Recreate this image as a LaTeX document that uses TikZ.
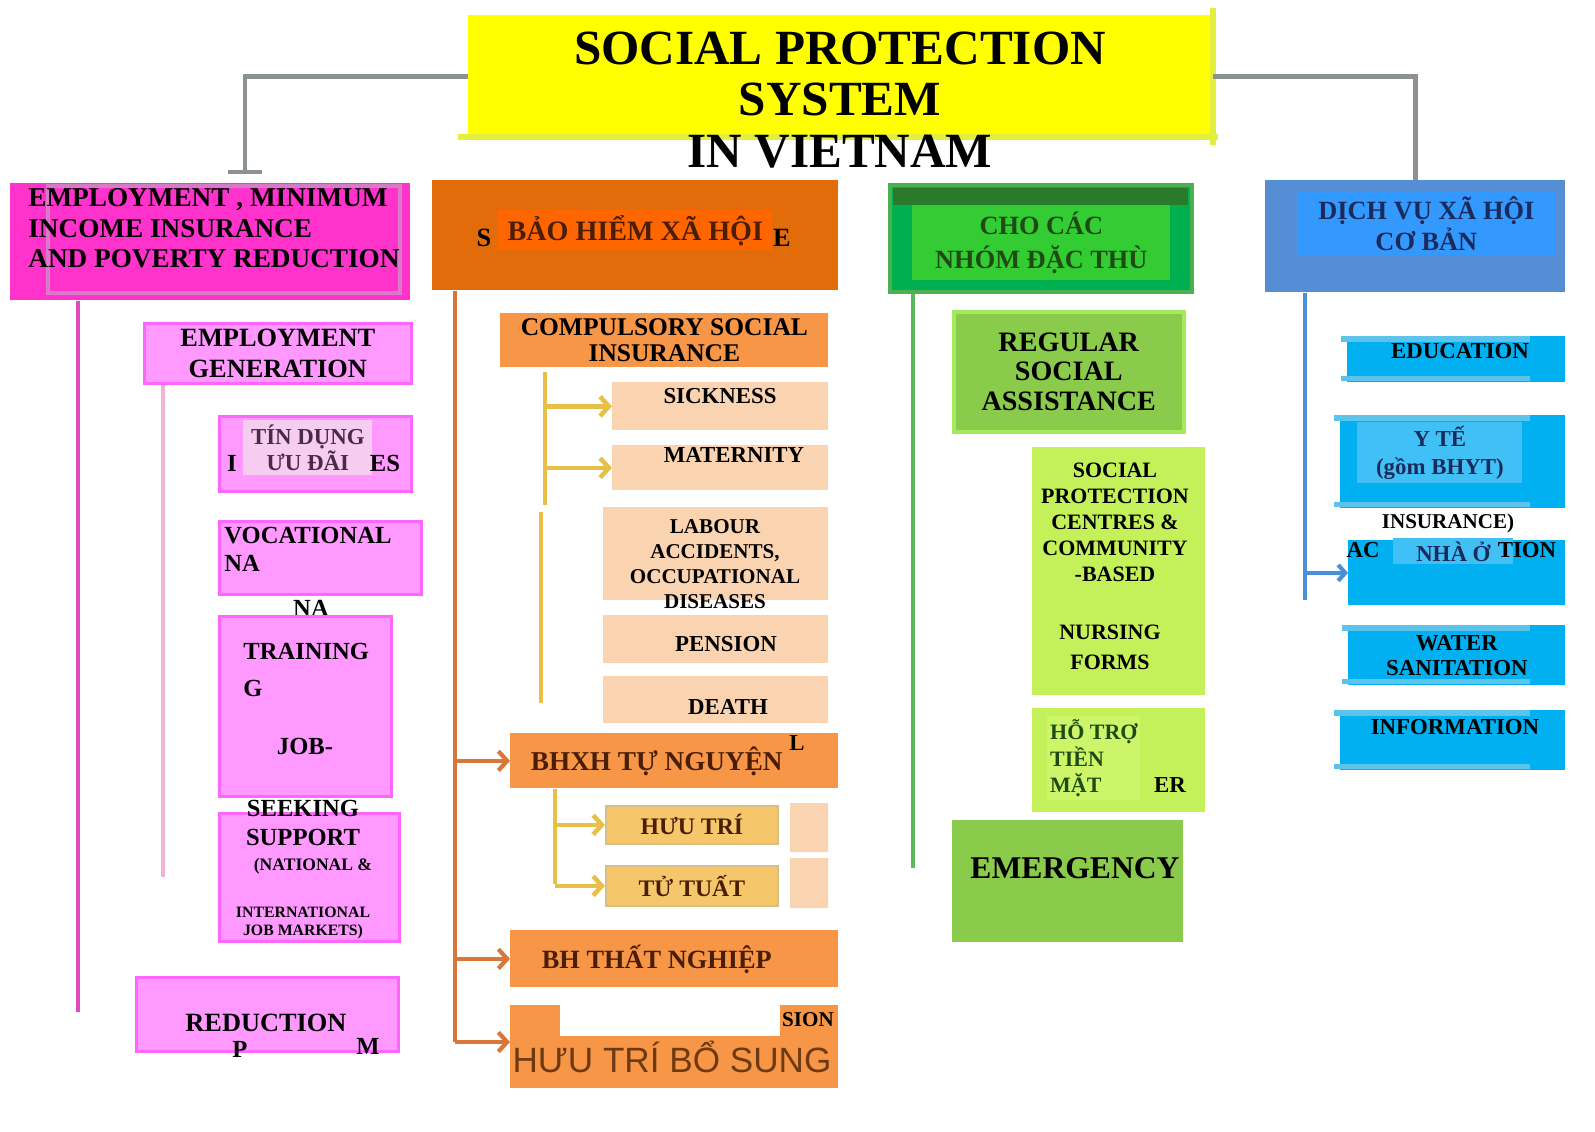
\documentclass[tikz,border=0pt]{standalone}
\usepackage{fontspec}
\setmainfont{Liberation Serif}
\setsansfont{Liberation Sans}
\usetikzlibrary{arrows.meta,calc}
\definecolor{tyellow}{HTML}{FFFF00}
\definecolor{tyedge}{HTML}{E4EE3C}
\definecolor{greyl}{HTML}{8C9191}
\definecolor{magA}{HTML}{FF33CC}
\definecolor{magframe}{HTML}{D77BC8}
\definecolor{magB}{HTML}{FF99FF}
\definecolor{magC}{HTML}{FF66FF}
\definecolor{magline}{HTML}{DD4BBE}
\definecolor{pinkline}{HTML}{F0B4D2}
\definecolor{pinkpale}{HTML}{F6CCF0}
\definecolor{pinktext}{HTML}{4A2A44}
\definecolor{orA}{HTML}{E36C0A}
\definecolor{orB}{HTML}{FF6600}
\definecolor{orC}{HTML}{F79646}
\definecolor{orline}{HTML}{D9773A}
\definecolor{peach}{HTML}{FAD3B0}
\definecolor{brownd}{HTML}{4A1E05}
\definecolor{brownm}{HTML}{6E3A12}
\definecolor{yline}{HTML}{E8C048}
\definecolor{huuf}{HTML}{F5C76A}
\definecolor{huud}{HTML}{D8BE84}
\definecolor{grA}{HTML}{00B050}
\definecolor{grAb}{HTML}{4CB050}
\definecolor{grdark}{HTML}{2B7A2B}
\definecolor{grB}{HTML}{33CC33}
\definecolor{grC}{HTML}{8BCB4C}
\definecolor{grCb}{HTML}{A4EA5C}
\definecolor{grline}{HTML}{5CB85C}
\definecolor{ygr}{HTML}{C4F05A}
\definecolor{ygr2}{HTML}{CCF56A}
\definecolor{grtext}{HTML}{1E4A14}
\definecolor{bluA}{HTML}{558ED5}
\definecolor{bluB}{HTML}{3399FF}
\definecolor{navy}{HTML}{1B2A5C}
\definecolor{bline}{HTML}{4A8FD9}
\definecolor{cyA}{HTML}{00B0F0}
\definecolor{cyB}{HTML}{5CC4EA}
\definecolor{cyC}{HTML}{40C0F4}
\newcommand\bx[7]{%
  \pgfmathsetmacro\bxw{(#4-#2)*0.02}%
  \pgfmathsetmacro\bxh{(#5-#3)*0.02}%
  \node[#6,minimum width=\bxw cm,minimum height=\bxh cm,anchor=north west] (#1) at (#2,#3) {#7};}
\tikzset{
  box/.style={rectangle,inner sep=0pt,align=center,font=\bfseries},
  lbl/.style={inner sep=0pt,align=center,font=\bfseries},
  gline/.style={draw=greyl,line width=2.8pt},
  magl/.style={draw=magline,line width=2.6pt},
  pinkl/.style={draw=pinkline,line width=2.6pt},
  ol/.style={draw=orline,line width=2.6pt},
  oarrow/.style={draw=orline,line width=2.4pt,-{Straight Barb[length=5pt,width=11pt]}},
  yl/.style={draw=yline,line width=2.6pt},
  yarrow/.style={draw=yline,line width=2.6pt,-{Straight Barb[length=5pt,width=11pt]}},
  grl/.style={draw=grline,line width=2.6pt},
  bl/.style={draw=bline,line width=2.6pt},
  barrow/.style={draw=bline,line width=2.4pt,-{Straight Barb[length=4pt,width=9pt]}},
  cbar/.style={draw=cyB,line width=3pt},
}
\begin{document}
\begin{tikzpicture}[x=0.02cm,y=-0.02cm]
\useasboundingbox[fill=white] (0,0) rectangle (1595,1132);

% ---------- title ----------
\bx{titlebox}{468}{15}{1212}{138}{box,fill=tyellow}{}
\draw[draw=tyedge,line width=3pt] (458,137) -- (1218,137) (1213,8) -- (1213,145);
\node[lbl,font=\bfseries\fontsize{28}{29.5}\selectfont] (title) at (840,100) {SOCIAL PROTECTION\\SYSTEM\\IN VIETNAM};

\coordinate (gL) at (245,172);
\draw[gline] (titlebox.west) -| (gL);
\draw[draw=greyl,line width=2.5pt] ($(gL)+(-17,0)$) -- ($(gL)+(17,0)$);

% ---------- column heads ----------
\bx{emp}{10}{183}{410}{300}{box,fill=magA}{}
\draw[draw=magframe,line width=2.5pt] (48,186) rectangle (400,293);
\node[lbl,anchor=north west,align=left,font=\bfseries\fontsize{15.5}{17.5}\selectfont] (emptxt) at (28,188) {EMPLOYMENT , MINIMUM\\INCOME INSURANCE\\AND POVERTY REDUCTION};

\bx{si}{432}{180}{838}{290}{box,fill=orA}{}
\bx{siin}{498}{210}{772}{250}{box,fill=orB,text=brownd,font=\bfseries\fontsize{16}{18}\selectfont}{BẢO HIỂM XÃ HỘI}
\node[lbl,font=\bfseries\fontsize{15}{17}\selectfont] (siS) at (484,238) {S};
\node[lbl,font=\bfseries\fontsize{15}{17}\selectfont] (siE) at (782,238) {E};

\bx{ta}{888}{183}{1190}{290}{box,fill=grA,draw=grAb,line width=2pt}{}
\bx{tain}{912}{205}{1170}{280}{box,fill=grB,text=grtext,font=\bfseries\fontsize{15}{19}\selectfont}{CHO CÁC\\NHÓM ĐẶC THÙ}
\bx{tabar}{893}{188}{1188}{205}{box,fill=grdark}{}

\bx{dv}{1265}{180}{1565}{292}{box,fill=bluA}{}
\bx{dvin}{1297}{192}{1555}{255}{box,fill=bluB,text=navy,font=\bfseries\fontsize{15}{18}\selectfont}{DỊCH VỤ XÃ HỘI\\CƠ BẢN}

\draw[gline] (titlebox.east) -| (dv.north);

% ---------- employment column ----------
\coordinate (mL) at (78,1012);
\draw[magl] (emp.south -| mL) -- (mL);
\bx{gen}{143}{322}{410}{382}{box,fill=magB,draw=magC,line width=1.5pt,font=\bfseries\fontsize{15}{17.5}\selectfont}{EMPLOYMENT\\GENERATION}
\coordinate (pL) at (163,877);
\draw[pinkl] (gen.south -| pL) -- (pL);

\bx{cred}{218}{415}{410}{490}{box,fill=magB,draw=magC,line width=1.5pt}{}
\bx{credin}{243}{420}{372}{475}{box,fill=pinkpale,text=pinktext,font=\bfseries\fontsize{13}{15}\selectfont}{TÍN DỤNG\\ƯU ĐÃI}
\node[lbl,font=\bfseries\fontsize{14}{16}\selectfont] (credI) at (232,463) {I};
\node[lbl,font=\bfseries\fontsize{14}{16}\selectfont] (credES) at (385,463) {ES};

\bx{voc}{218}{520}{420}{593}{box,fill=magB,draw=magC,line width=1.5pt}{}
\node[lbl,anchor=north west,align=left,font=\bfseries\fontsize{14}{16}\selectfont] (voctxt) at (224,527) {VOCATIONAL\\NA};
\node[lbl,font=\bfseries\fontsize{14}{16}\selectfont] (na) at (311,608) {NA};

\bx{train}{218}{615}{390}{795}{box,fill=magB,draw=magC,line width=1.5pt}{}
\node[lbl,anchor=north west,align=left,font=\bfseries\fontsize{14}{21}\selectfont] (traintxt) at (243,643) {TRAINING\\G};
\node[lbl,font=\bfseries\fontsize{14}{16}\selectfont] (jobtxt) at (305,746) {JOB-};

\bx{seek}{218}{812}{398}{940}{box,fill=magB,draw=magC,line width=1.5pt}{}
\node[lbl,font=\bfseries\fontsize{14}{16.5}\selectfont] (seektxt) at (303,823) {SEEKING\\SUPPORT};
\node[lbl,font=\bfseries\fontsize{10}{11}\selectfont] (nattxt) at (313,866) {(NATIONAL \&};
\node[lbl,font=\bfseries\fontsize{9}{10}\selectfont] (inttxt) at (303,923) {INTERNATIONAL\\JOB MARKETS)};

\bx{pov}{135}{976}{397}{1050}{box,fill=magB,draw=magC,line width=1.5pt}{}
\node[lbl,font=\bfseries\fontsize{15}{17}\selectfont] (povtxt) at (266,1023) {REDUCTION};
\node[lbl,font=\bfseries\fontsize{14}{16}\selectfont] (povP) at (240,1049) {P};
\node[lbl,font=\bfseries\fontsize{14}{16}\selectfont] (povM) at (368,1046) {M};

% ---------- social insurance column ----------
\coordinate (oL) at (455,1042);
\draw[ol] (si.south -| oL) -- (oL);
\bx{comp}{500}{313}{828}{367}{box,fill=orC,font=\bfseries\fontsize{14.5}{14.5}\selectfont}{COMPULSORY SOCIAL\\INSURANCE}

\bx{sick}{612}{382}{828}{430}{box,fill=peach}{}
\node[lbl,font=\bfseries\fontsize{13}{15}\selectfont] (sicktxt) at (720,396) {SICKNESS};
\bx{mat}{612}{445}{828}{490}{box,fill=peach}{}
\node[lbl,font=\bfseries\fontsize{13}{15}\selectfont] (mattxt) at (734,455) {MATERNITY};
\bx{lab}{603}{507}{828}{600}{box,fill=peach}{}
\node[lbl,font=\bfseries\fontsize{12}{14.3}\selectfont] (labtxt) at (715,564) {LABOUR\\ACCIDENTS,\\OCCUPATIONAL\\DISEASES};
\bx{pen}{603}{615}{828}{663}{box,fill=peach}{}
\node[lbl,font=\bfseries\fontsize{13}{15}\selectfont] (pentxt) at (726,644) {PENSION};
\bx{death}{603}{676}{828}{723}{box,fill=peach}{}
\node[lbl,font=\bfseries\fontsize{13}{15}\selectfont] (deathtxt) at (728,707) {DEATH};

\coordinate (yA) at (545,372);
\coordinate (yB) at (545,505);
\draw[yl] (yA) -- (yB);
\draw[yarrow] (yA |- sick.west) -- (sick.west);
\draw[yarrow] (yA |- mat.west) -- (mat.west);
\coordinate (yC) at (541,512);
\coordinate (yD) at (541,703);
\draw[yl] (yC) -- (yD);

\bx{vol}{510}{733}{838}{788}{box,fill=orC,text=brownd,font=\bfseries\fontsize{15.5}{17}\selectfont}{BHXH TỰ NGUYỆN\hspace{20pt}}
\node[lbl,font=\bfseries\fontsize{13}{15}\selectfont] (volL) at (797,743) {L};
\bx{huu}{605}{805}{777}{843}{box,fill=huuf,draw=huud,line width=1pt,text=brownd,font=\bfseries\fontsize{13.5}{15}\selectfont}{HƯU TRÍ}
\bx{tt}{605}{865}{777}{905}{box,fill=huuf,draw=huud,line width=1pt,text=brownd,font=\bfseries\fontsize{13.5}{15}\selectfont}{TỬ TUẤT}
\fill[peach] (790,803) rectangle (828,852) (790,858) rectangle (828,908);
\coordinate (yE) at (555,884);
\draw[yl] (vol.south -| yE) -- (yE);
\draw[yarrow] (yE |- huu.west) -- (huu.west);
\draw[yarrow] (yE |- tt.west) -- (tt.west);

\bx{unemp}{510}{930}{838}{987}{box,fill=orC,text=brownd,font=\bfseries\fontsize{15}{17}\selectfont}{BH THẤT NGHIỆP\hspace{20pt}}
\bx{supp}{510}{1005}{838}{1088}{box,fill=orC}{}
\fill[white] (560,1000) rectangle (780,1036);
\node[lbl,font=\bfseries\fontsize{12}{14}\selectfont] (supS) at (808,1020) {SION};
\node[inner sep=0pt,text=brownm,font=\sffamily\fontsize{20}{22}\selectfont] (suptxt) at (672,1057) {HƯU TRÍ BỔ SUNG};
\draw[oarrow] (oL |- vol.west) -- (vol.west);
\draw[oarrow] (oL |- unemp.west) -- (unemp.west);
\draw[oarrow] (oL) -- (supp.west |- oL);

% ---------- social assistance column ----------
\coordinate (gnL) at (913,868);
\draw[grl] (ta.south -| gnL) -- (gnL);
\bx{reg}{952}{310}{1182}{430}{box,fill=grC,draw=grCb,line width=2pt,font=\bfseries\fontsize{16}{17}\selectfont}{REGULAR\\SOCIAL\\ASSISTANCE}
\bx{cen}{1032}{447}{1205}{695}{box,fill=ygr}{}
\node[lbl,font=\bfseries\fontsize{12.5}{14.8}\selectfont] (centxt) at (1115,522) {SOCIAL\\PROTECTION\\CENTRES \&\\COMMUNITY\\-BASED};
\node[lbl,font=\bfseries\fontsize{12.5}{17}\selectfont] (nurtxt) at (1110,647) {NURSING\\FORMS};
\bx{cash}{1032}{708}{1205}{812}{box,fill=ygr}{}
\bx{cashin}{1047}{716}{1140}{800}{box,fill=ygr2,text=grtext,align=left,font=\bfseries\fontsize{12.5}{15}\selectfont}{HỖ TRỢ\\TIỀN\\MẶT}
\node[lbl,font=\bfseries\fontsize{13}{15}\selectfont] (cashER) at (1170,785) {ER};
\bx{emer}{952}{820}{1183}{942}{box,fill=grC}{}
\node[lbl,font=\bfseries\fontsize{18}{20}\selectfont] (emertxt) at (1075,868) {EMERGENCY};

% ---------- basic social services column ----------
\coordinate (bL) at (1305,600);
\draw[bl] (dv.south -| bL) -- (bL);
\bx{edu}{1347}{336}{1565}{382}{box,fill=cyA}{}
\node[lbl,font=\bfseries\fontsize{13}{15}\selectfont] (edutxt) at (1460,351) {EDUCATION};
\bx{hlth}{1340}{415}{1565}{508}{box,fill=cyA}{}
\bx{hlthin}{1357}{422}{1522}{483}{box,fill=cyC,text=navy,font=\bfseries\fontsize{13}{16}\selectfont}{Y TẾ\\(gồm BHYT)}
\bx{acc}{1348}{540}{1565}{605}{box,fill=cyA}{}
\bx{accin}{1393}{538}{1513}{564}{box,fill=cyC,text=navy,font=\bfseries\fontsize{13}{15}\selectfont}{NHÀ Ở}
\node[lbl,font=\bfseries\fontsize{12}{14}\selectfont] (instxt) at (1448,523) {INSURANCE)};
\node[lbl,font=\bfseries\fontsize{13}{15}\selectfont] (accAC) at (1363,550) {AC};
\node[lbl,font=\bfseries\fontsize{13}{15}\selectfont] (accTION) at (1527,550) {TION};
\draw[barrow] (bL |- acc.west) -- (acc.west);
\bx{wat}{1348}{625}{1565}{685}{box,fill=cyA,font=\bfseries\fontsize{13}{14.5}\selectfont}{WATER\\SANITATION}
\bx{info}{1340}{710}{1565}{770}{box,fill=cyA}{}
\node[lbl,font=\bfseries\fontsize{13}{15}\selectfont] (infotxt) at (1455,727) {INFORMATION};
\foreach \b in {edu,hlth,wat,info}{
  \draw[cbar] ($(\b.north west)+(-6,3)$) -- ($(\b.north east)+(-36,3)$);
  \draw[cbar] ($(\b.south west)+(-6,-4)$) -- ($(\b.south east)+(-36,-4)$);
}
\end{tikzpicture}
\end{document}
